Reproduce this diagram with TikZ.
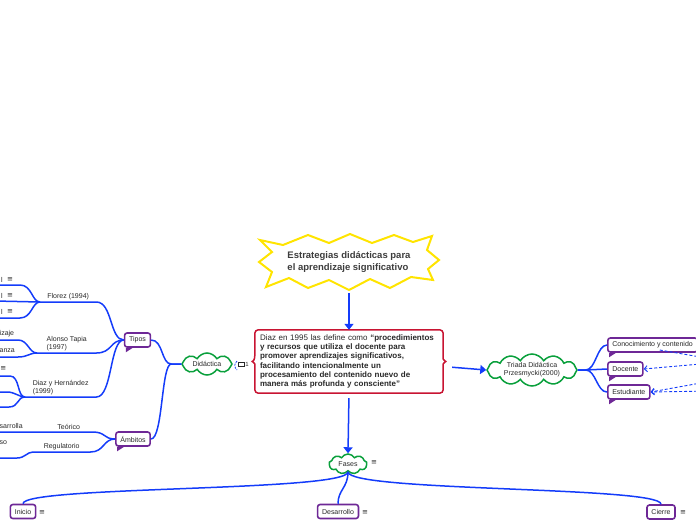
\documentclass[tikz,border=0pt]{standalone}
\usepackage{fontspec}
\setmainfont{Liberation Sans}
\newfontfamily\symfont{DejaVu Sans}
\usepackage{tikz}
\usetikzlibrary{positioning,arrows.meta,shapes.symbols}
\definecolor{mapblue}{RGB}{20,60,250}
\definecolor{cloudgreen}{RGB}{10,160,60}
\definecolor{boxviolet}{RGB}{110,40,150}
\definecolor{defred}{RGB}{200,20,50}
\definecolor{staryellow}{RGB}{255,228,0}
\definecolor{inkgray}{RGB}{40,40,40}
\newcommand{\lblfont}{\fontsize{7}{8}\selectfont}
\newcommand{\noteic}{{\symfont\fontsize{7}{7}\selectfont ≡}}

\begin{document}
\begin{tikzpicture}[x=1pt, y=-1pt,
    vbox/.style={draw=boxviolet, line width=1.6pt, rounded corners=2.5pt, fill=white, text=inkgray,
                 font=\lblfont, minimum height=14pt, inner xsep=4.5pt, inner ysep=0pt},
    cld/.style={cloud, cloud puffs=10, cloud puff arc=120, cloud ignores aspect, draw=cloudgreen,
                line width=1.5pt, fill=white, text=inkgray, font=\lblfont, inner sep=0pt, align=center},
    ulab/.style={anchor=south west, font=\lblfont, text=inkgray, align=left, inner xsep=0pt, inner ysep=2pt},
    frag/.style={font=\lblfont, text=inkgray, inner sep=0pt},
    note/.style={inner sep=0pt, text=inkgray},
    br/.style={draw=mapblue, line width=1.5pt},
    arr/.style={draw=mapblue, line width=1.5pt, -{Triangle[length=6pt,width=9pt]}},
    rel/.style={draw=mapblue, line width=0.9pt, dash pattern=on 3pt off 2pt, -{Straight Barb[length=3pt,width=6pt]}},
    tailfill/.style={fill=boxviolet}
]
\useasboundingbox (0,0) rectangle (696,520);

% title burst
\draw[staryellow, line width=2pt] (260,240) -- (283,245) -- (308,235) -- (329,243) -- (350,234) -- (372,243)
  -- (394,235) -- (413,242) -- (432,236) -- (427,250) -- (439,260) -- (428,269) -- (433,280) -- (411,277)
  -- (390,288) -- (370,279) -- (349,290) -- (329,280) -- (308,288) -- (289,278) -- (266,287) -- (272,272)
  -- (259,262) -- (272,252) -- cycle;
\node[font=\fontsize{9.5}{12}\selectfont\bfseries, text=inkgray!90, align=left,
      minimum width=178pt, minimum height=56pt, inner sep=0pt] (ttl) at (349,262)
      {Estrategias didácticas para\\el aprendizaje significativo};

% definition box
\node[text=inkgray, font=\fontsize{8}{9.2}\selectfont, text width=178pt, align=left,
      minimum width=188pt, minimum height=63pt, inner sep=0pt] (def) at (349,361.5)
  {Diaz en 1995 las define como {\bfseries “procedimientos}\\
   {\bfseries y recursos que utiliza el docente para}\\
   {\bfseries promover aprendizajes significativos,}\\
   {\bfseries facilitando intencionalmente un}\\
   {\bfseries procesamiento del contenido nuevo de}\\
   {\bfseries manera más profunda y consciente”}};
\draw[defred, line width=1.5pt, rounded corners=3.5pt] ([yshift=6pt]def.west) -- (def.north west) -- (def.north east)
  -- ([yshift=6pt]def.east) .. controls +(0,4) and +(-3,-1) .. ([xshift=4.5pt]def.east)
  .. controls +(-3,1) and +(0,-4) .. ([yshift=-6pt]def.east) -- (def.south east) -- (def.south west)
  -- ([yshift=-6pt]def.west) .. controls +(0,-4) and +(3,1) .. ([xshift=-4.5pt]def.west)
  .. controls +(3,-1) and +(0,4) .. ([yshift=6pt]def.west);

% clouds
\node[cld, cloud puffs=8, minimum width=50pt, minimum height=22pt] (did) at (207,364) {Didáctica};
\node[cld, cloud puffs=12, minimum width=90pt, minimum height=32pt] (tri) at (532,370) {Triada Didáctica\\Przesmycki(2000)};
\node[cld, cloud puffs=9, minimum width=38pt, minimum height=20pt] (fas) at (348,464) {Fases};

% boxes
\node[vbox] (tip) at (137.5,340) {Tipos};
\node[vbox] (amb) at (133,439) {Ámbitos};
\node[vbox, anchor=west] (con) at (607,345) {Conocimiento y contenido};
\node[vbox, anchor=west] (doc) at (607,369) {Docente};
\node[vbox, anchor=west] (est) at (607,392) {Estudiante};
\node[vbox] (ini) at (23,511.5) {Inicio};
\node[vbox] (des) at (338,511.5) {Desarrollo};
\node[vbox] (cie) at (661,512) {Cierre};
\fill[tailfill] ([xshift=2pt]tip.south west) -- ++(0,4.5) -- ++(7,-4.5) -- cycle;
\fill[tailfill] ([xshift=2pt]amb.south west) -- ++(0,4.5) -- ++(7,-4.5) -- cycle;
\fill[tailfill] ([xshift=2pt]con.south west) -- ++(0,4.5) -- ++(7,-4.5) -- cycle;
\fill[tailfill] ([xshift=2pt]doc.south west) -- ++(0,4.5) -- ++(7,-4.5) -- cycle;
\fill[tailfill] ([xshift=2pt]est.south west) -- ++(0,4.5) -- ++(7,-4.5) -- cycle;

% branch labels
\node[ulab, minimum width=56pt] (flo) at (40,302) {Florez (1994)};
\node[ulab, minimum width=59pt] (alo) at (37,353) {Alonso Tapia\\(1997)};
\node[ulab, minimum width=71pt] (dia) at (25,397) {Diaz y Hernández\\(1999)};
\node[ulab, minimum width=47pt] (teo) at (45,432) {Teórico};
\node[ulab, minimum width=57pt] (reg) at (33,452) {Regulatorio};

% cut-off leaves
\node[frag, anchor=east] (l1) at (3,280) {l};
\node[frag, anchor=east] (l2) at (3,296) {l};
\node[frag, anchor=east] (l3) at (3,312) {l};
\node[frag, anchor=west] (a1) at (-0.5,334) {izaje};
\node[frag, anchor=west] (a2) at (-0.5,351) {anza};
\node[frag, anchor=west] (m1) at (-0.5,426) {sarrolla};
\node[frag, anchor=west] (m2) at (-0.5,443) {so};
\coordinate (e1) at (-5,285); \coordinate (e2) at (-5,301); \coordinate (e3) at (-5,318);
\coordinate (e4) at (-5,340); \coordinate (e5) at (-5,357);
\coordinate (e6) at (-5,376); \coordinate (e7) at (-5,392); \coordinate (e8) at (-5,407);
\coordinate (e9) at (-5,432); \coordinate (e10) at (-5,458);

% note marks
\node[note] (nf1) at (10,280) {\noteic};
\node[note] (nf2) at (10,296) {\noteic};
\node[note] (nf3) at (10,312) {\noteic};
\node[note] (nd1) at (3.2,369) {\noteic};
\node[note] (nfa) at (374,463) {\noteic};
\node[note] (nin) at (42,513) {\noteic};
\node[note] (nde) at (365,513) {\noteic};
\node[note] (nci) at (683,513) {\noteic};

% comment mark next to Didactica
\draw[mapblue, line width=0.8pt, dash pattern=on 2pt off 1.2pt] (237,361) .. controls (234,364) and (234,367) .. (237,370);
\draw[inkgray, line width=0.7pt] (238.5,362.5) rectangle (244,366.5);
\node[frag, font=\fontsize{6}{6}\selectfont] (cmt) at (247,364.5) {1};

% main arrows
\draw[arr, shorten <=3pt] (ttl.south) -- (def.north);
\draw[arr, shorten <=5pt] (def.south) -- (fas.north);
\draw[arr, shorten <=9pt] ([yshift=-5pt]def.east) -- (tri.west);

% left tree
\draw[br] (did.west) -- ++(-10,0) .. controls +(-10,0) and +(12,0) .. (tip.east);
\draw[br] (did.west) -- ++(-10,0) .. controls +(-10,0) and +(12,0) .. (amb.east);
\draw[br] (flo.south west) -- (flo.south east) .. controls +(16,0) and +(-14,0) .. (tip.west);
\draw[br] (alo.south west) -- (alo.south east) .. controls +(16,0) and +(-14,0) .. (tip.west);
\draw[br] (dia.south west) -- (dia.south east) .. controls +(16,0) and +(-14,0) .. (tip.west);
\draw[br] (e1) -- ++(25,0) .. controls +(12,0) and +(-8,0) .. (flo.south west);
\draw[br] (e2) -- (flo.south west);
\draw[br] (e3) -- ++(25,0) .. controls +(12,0) and +(-8,0) .. (flo.south west);
\draw[br] (e4) -- ++(23,0) .. controls +(10,0) and +(-8,0) .. (alo.south west);
\draw[br] (e5) -- ++(23,0) .. controls +(10,0) and +(-8,0) .. (alo.south west);
\draw[br] (e6) -- ++(15,0) .. controls +(10,0) and +(-8,0) .. (dia.south west);
\draw[br] (e7) -- ++(12,0) .. controls +(8,0) and +(-6,0) .. (dia.south west);
\draw[br] (e8) -- ++(14,0) .. controls +(10,0) and +(-8,0) .. (dia.south west);
\draw[br] (e9) -- (teo.south west) -- (teo.south east) .. controls +(14,0) and +(-12,0) .. (amb.west);
\draw[br] (e10) -- ++(22,0) .. controls +(8,0) and +(-6,0) .. (reg.south west) -- (reg.south east)
  .. controls +(14,0) and +(-12,0) .. (amb.west);

% right tree
\draw[br] (tri.east) -- ++(8,0) .. controls +(10,0) and +(-10,0) .. (con.west);
\draw[br] (tri.east) -- ++(8,0) .. controls +(10,0) and +(-10,0) .. (doc.west);
\draw[br] (tri.east) -- ++(8,0) .. controls +(10,0) and +(-10,0) .. (est.west);
\coordinate (r1) at (712,359); \coordinate (r2) at (712,363);
\coordinate (r3) at (712,381); \coordinate (r4) at (712,391);
\draw[rel, -] (r1) -- ([xshift=6pt,yshift=3pt]con.south);
\draw[rel] (r2) -- (doc.east);
\draw[rel] (r3) -- (est.east);
\draw[rel] (r4) -- (est.east);

% phases
\draw[br] (fas.south) .. controls +(0,20) and +(0,-18) .. (ini.north);
\draw[br] (fas.south) .. controls +(0,16) and +(0,-14) .. (des.north);
\draw[br] (fas.south) .. controls +(0,20) and +(0,-18) .. (cie.north);
\end{tikzpicture}
\end{document}
